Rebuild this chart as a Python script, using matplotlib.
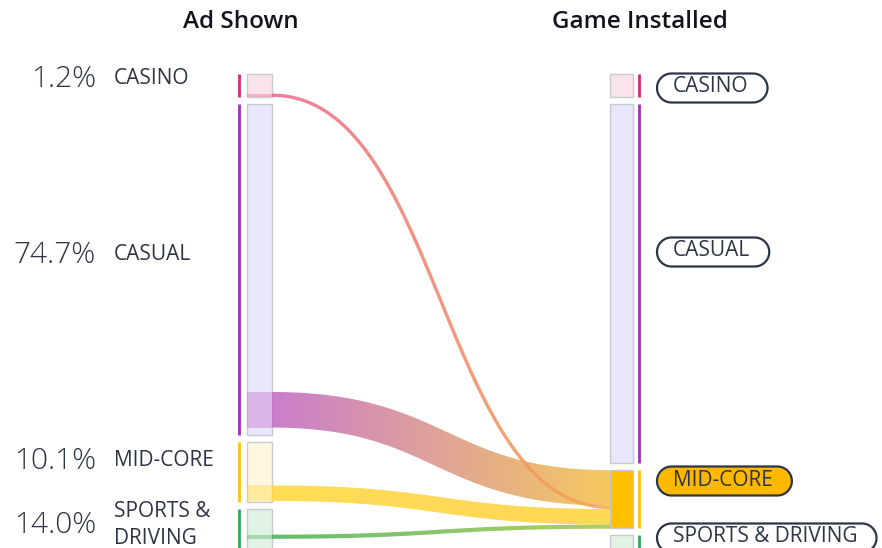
import numpy as np
import matplotlib
matplotlib.use("Agg")
import matplotlib.pyplot as plt
from matplotlib.patches import Rectangle, Polygon
from matplotlib.colors import to_rgb

plt.rcParams['font.family'] = ['Open Sans', 'DejaVu Sans']

# data
left_names = ["CASINO", "CASUAL", "MID-CORE", "SPORTS &\nDRIVING"]
left_pct = [1.2, 74.7, 10.1, 14.0]
right_names = ["CASINO", "CASUAL", "MID-CORE", "SPORTS & DRIVING"]
right_val = [1.2, 81.4, 9.5, 7.9]
# flows into MID-CORE (the highlighted target), in the order they stack on it
flow_src = [1, 0, 2, 3]
flow_val = [8.5, 0.8, 3.7, 1.0]
flow_src_pos = [0.87, 0.85, 0.72, 0.33]   # where the flow leaves its source node
target = 2

line_cols = ["#e0266e", "#a32cc4", "#ffc107", "#2faa5c"]
fill_cols = ["#fbe3ea", "#e8e7fc", "#fff7de", "#e2f3e6"]
flow_left = ["#ec6a8c", "#c26cc6", "#ffd740", "#4fb45e"]
flow_right = ["#f7a850", "#f4c24a", "#ffd33c", "#a8c84c"]
hl_col = "#ffc000"
pill_hl = "#ffb800"
txt = "#2d3446"

# layout (pixel space)
W, H = 882, 548
top, gap, pad, k = 74, 7, 18, 4.19
xl0, xl1, xline_l = 247, 272, 239
xr0, xr1, xline_r = 610, 633, 639


def stack(vals):
    ys, y = [], top
    for v in vals:
        h = pad + k * v
        ys.append((y, y + h))
        y += h + gap
    return ys


def pill(x0, yc, w, h):
    r = h / 2
    a = np.linspace(np.pi / 2, 3 * np.pi / 2, 40)
    left = np.c_[x0 + r + r * np.cos(a), yc - r * np.sin(a)]
    right = np.c_[x0 + w - r - r * np.cos(a), yc + r * np.sin(a)]
    return np.vstack([left, right])


def ribbon(x0, y0, x1, y1, w, n=200):
    # link drawn like a stroke: constant width across a cubic centre line
    xm = (x0 + x1) / 2
    t = np.linspace(0, 1, n)[:, None]
    P = np.array([[x0, y0], [xm, y0], [xm, y1], [x1, y1]])
    c = ((1 - t) ** 3) * P[0] + 3 * ((1 - t) ** 2) * t * P[1] + 3 * (1 - t) * t ** 2 * P[2] + t ** 3 * P[3]
    d = 3 * ((1 - t) ** 2) * (P[1] - P[0]) + 6 * (1 - t) * t * (P[2] - P[1]) + 3 * t ** 2 * (P[3] - P[2])
    d /= np.linalg.norm(d, axis=1)[:, None]
    nrm = np.c_[-d[:, 1], d[:, 0]]
    return np.vstack([c + nrm * w / 2, (c - nrm * w / 2)[::-1]])


lnodes = stack(left_pct)
rnodes = stack(right_val)

fig = plt.figure(figsize=(W / 100, H / 100), dpi=100)
ax = fig.add_axes([0, 0, 1, 1])
ax.set_xlim(0, W)
ax.set_ylim(H, 0)
ax.axis("off")

for i, (y0, y1) in enumerate(lnodes):
    ax.add_patch(Rectangle((xl0, y0), xl1 - xl0, y1 - y0, fc=fill_cols[i], ec="#c9c9d0", lw=1, zorder=2))
    ax.plot([xline_l, xline_l], [y0, y1], color=line_cols[i], lw=2, solid_capstyle="butt", zorder=2)

for i, (y0, y1) in enumerate(rnodes):
    fc = hl_col if i == target else fill_cols[i]
    ax.add_patch(Rectangle((xr0, y0), xr1 - xr0, y1 - y0, fc=fc, ec="#c9c9d0", lw=1, zorder=2))
    ax.plot([xline_r, xline_r], [y0, y1], color=line_cols[i], lw=2, solid_capstyle="butt", zorder=2)

# flows
ty = rnodes[target][0]
tpos = []
for v in flow_val:
    tpos.append(ty)
    ty += k * v
order = sorted(range(len(flow_src)), key=lambda j: flow_src[j] == 0)  # casino link on top
for j in order:
    s, v, p, ty = flow_src[j], flow_val[j], flow_src_pos[j], tpos[j]
    y0, y1 = lnodes[s]
    sy = y0 + p * (y1 - y0)
    w = k * v
    # highlight on the source bar
    ax.add_patch(Rectangle((xl0, sy), xl1 - xl0, w, fc=flow_left[s], alpha=0.4, lw=0, zorder=3))
    patch = Polygon(ribbon(xl1, sy + w / 2, xr0, ty + w / 2, w), closed=True, fc="none", ec="none")
    ax.add_patch(patch)
    c0, c1 = np.array(to_rgb(flow_left[s])), np.array(to_rgb(flow_right[s]))
    tt = np.linspace(0, 1, 256)[None, :, None]
    grad = np.concatenate([c0 + (c1 - c0) * tt, np.full((1, 256, 1), 0.88)], axis=2)
    im = ax.imshow(grad, extent=[xl1, xr0, max(sy, ty) + w + 6, min(sy, ty) - 6],
                   aspect="auto", zorder=3 + (s == 0), interpolation="bilinear")
    im.set_clip_path(patch)

ax.set_xlim(0, W)
ax.set_ylim(H, 0)

# titles
ax.text(241, 22, "Ad Shown", ha="center", va="center", fontsize=17.5, fontweight="semibold", color="#14141f")
ax.text(640, 22, "Game Installed", ha="center", va="center", fontsize=17.5, fontweight="semibold", color="#14141f")

# left labels
left_label_y = [79, 255, 461, 525]
for name, pct, y in zip(left_names, left_pct, left_label_y):
    ax.text(96, y, f"{pct:.1f}%", ha="right", va="center", fontsize=21.5, fontweight="light", color=txt)
    ax.text(114, y, name, ha="left", va="center", fontsize=15, color=txt, linespacing=1.35)

# right labels as pills
right_label_y = [87, 251, 480, 537]
fig.canvas.draw()
r = fig.canvas.get_renderer()
inv = ax.transData.inverted()
for i, (name, y) in enumerate(zip(right_names, right_label_y)):
    t_ = ax.text(673, y, name, ha="left", va="center", fontsize=15, color=txt, zorder=6)
    bb = t_.get_window_extent(r)
    (xa, _), (xb, _) = inv.transform([[bb.x0, bb.y0], [bb.x1, bb.y1]])
    fc = pill_hl if i == target else "white"
    ax.add_patch(Polygon(pill(657, y + 1, xb - 657 + 19, 29), closed=True,
                         fc=fc, ec=txt, lw=1.6, zorder=5))

fig.savefig("out.png", dpi=100)
